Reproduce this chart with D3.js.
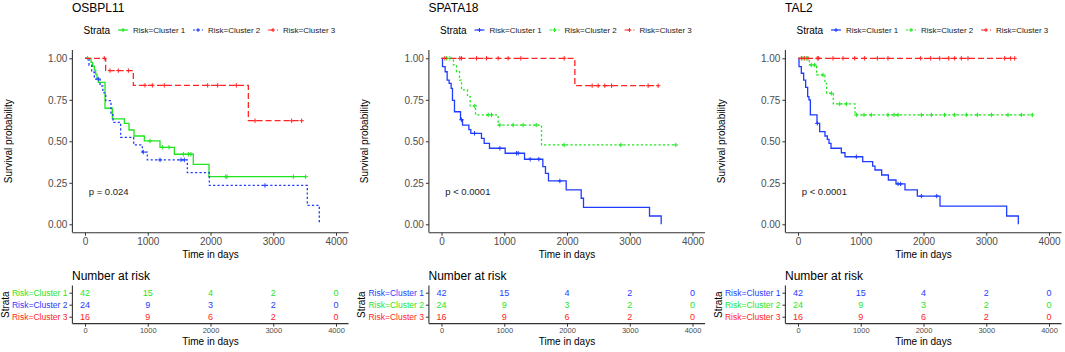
<!DOCTYPE html>
<html>
<head>
<meta charset="utf-8">
<script src="https://cdn.jsdelivr.net/npm/d3@7"></script>
<style>
  body { margin: 0; background: #fff; }
  svg { font-family: "Liberation Sans", Arial, sans-serif; display: block; }
  .tick text { fill: #4d4d4d; }
</style>
</head>
<body>
<svg id="chart" width="1065" height="352"></svg>
<script>
// ---- data ----
const genes = ["OSBPL11", "SPATA18", "TAL2"];
const pLabels = ["p = 0.024", "p < 0.0001", "p < 0.0001"];
const strata = ["Risk=Cluster 1", "Risk=Cluster 2", "Risk=Cluster 3"];
const timeTicks = [0, 1000, 2000, 3000, 4000];
const survTicks = [0, 0.25, 0.5, 0.75, 1];

// number at risk (same in all three panels)
const riskCluster1 = [42, 15, 4, 2, 0];
const riskCluster2 = [24, 9, 3, 2, 0];
const riskCluster3 = [16, 9, 6, 2, 0];

// KM steps: [time, survival from that time on]; last pair = end of follow-up
const osbpl11C1 = [[0,1],[96,0.976],[122,0.952],[149,0.929],[170,0.905],[191,0.88],[212,0.855],[319,0.699],[436,0.635],[627,0.608],[701,0.568],[781,0.532],[946,0.502],[1195,0.464],[1424,0.422],[1726,0.361],[1976,0.287],[3517,0.287]];
const osbpl11C1Cens = [42, 1036, 1232, 1339, 1567, 1647, 1689, 2242, 2263, 3320, 3517];
const osbpl11C2 = [[0,1],[64,0.958],[106,0.917],[149,0.875],[240,0.833],[285,0.792],[330,0.745],[414,0.66],[446,0.614],[568,0.524],[776,0.478],[914,0.435],[993,0.388],[1631,0.311],[1981,0.234],[3543,0.114],[3734,0]];
const osbpl11C2Cens = [212, 930, 1195, 1530, 1583, 2868];
const osbpl11C3 = [[0,1],[329,0.926],[770,0.837],[2603,0.624],[3453,0.624]];
const osbpl11C3Cens = [308, 398, 531, 691, 956, 1073, 1264, 1955, 2114, 2412, 2709, 3293, 3453];

const spata18C1 = [[0,1],[16,0.95],[58,0.919],[90,0.869],[122,0.849],[154,0.819],[175,0.747],[207,0.678],[303,0.63],[335,0.598],[436,0.57],[467,0.548],[637,0.518],[680,0.488],[765,0.458],[1015,0.428],[1323,0.392],[1615,0.347],[1657,0.307],[1705,0.261],[1987,0.207],[2226,0.157],[2263,0.102],[3315,0.05],[3501,0]];
const spata18C1Cens = [319, 526, 930, 1195, 1222, 1413, 1551, 1886];
const spata18C2 = [[0,1],[191,0.96],[239,0.919],[287,0.869],[319,0.81],[414,0.769],[457,0.713],[542,0.659],[903,0.598],[1594,0.478],[3734,0.478]];
const spata18C2Cens = [80, 133, 531, 744, 797, 930, 1142, 1301, 1509, 1955, 2858, 3734];
const spata18C3 = [[0,1],[2125,0.835],[3453,0.835]];
const spata18C3Cens = [53, 292, 319, 558, 717, 903, 1062, 1264, 1955, 2401, 2497, 2603, 2709, 3293, 3453];

const tal2C1 = [[0,1],[16,0.95],[53,0.91],[90,0.869],[122,0.825],[154,0.769],[175,0.749],[197,0.659],[303,0.608],[345,0.558],[430,0.532],[467,0.512],[494,0.488],[526,0.458],[691,0.431],[749,0.407],[1031,0.377],[1190,0.351],[1227,0.327],[1333,0.297],[1440,0.267],[1562,0.243],[1705,0.207],[1902,0.17],[2263,0.11],[3325,0.05],[3511,0]];
const tal2C1Cens = [308, 930, 1594, 1636, 1966, 2210];
const tal2C2 = [[0,1],[181,0.96],[297,0.9],[430,0.849],[457,0.789],[563,0.725],[908,0.659],[3734,0.659]];
const tal2C2Cens = [80, 133, 212, 266, 398, 531, 664, 770, 930, 1052, 1169, 1434, 1530, 1594, 1966, 2125, 2337, 2497, 2683, 2858, 3081, 3347, 3559, 3734];
const tal2C3 = [[0,1],[3453,1]];
const tal2C3Cens = [53, 106, 159, 308, 329, 558, 717, 903, 1062, 1264, 1434, 1955, 2114, 2258, 2401, 2497, 2603, 2709, 3293, 3389, 3453];

// ---- styles ----
const GREEN = "#1fe61f", BLUE = "#1f3cff", RED = "#ff2424";
const panelColors = [[GREEN, BLUE, RED], [BLUE, GREEN, RED], [BLUE, GREEN, RED]];
const dashes = [null, "2.2,2.2", "6,3"];

const panels = [
  {curves: [osbpl11C1, osbpl11C2, osbpl11C3], cens: [osbpl11C1Cens, osbpl11C2Cens, osbpl11C3Cens]},
  {curves: [spata18C1, spata18C2, spata18C3], cens: [spata18C1Cens, spata18C2Cens, spata18C3Cens]},
  {curves: [tal2C1, tal2C2, tal2C3], cens: [tal2C1Cens, tal2C2Cens, tal2C3Cens]}
];
const riskTable = [riskCluster1, riskCluster2, riskCluster3];
const panelLeft = [0, 356.5, 713];

const svg = d3.select("#chart");
const AXIS = "#333";

function survAt(curve, t) {
  const i = d3.bisector(d => d[0]).right(curve, t) - 1;
  return curve[Math.max(0, i)][1];
}

function plus(g, cx, cy, col, r) {
  g.append("path")
    .attr("d", `M${cx - r},${cy}H${cx + r}M${cx},${cy - r}V${cy + r}`)
    .attr("stroke", col).attr("stroke-width", 1).attr("fill", "none");
}

panels.forEach((p, pi) => {
  const left = panelLeft[pi];
  const cols = panelColors[pi];
  const g = svg.append("g");

  const x = d3.scaleLinear().domain([0, 4000]).range([left + 85, left + 336]);
  const y = d3.scaleLinear().domain([0, 1]).range([224.3, 58.3]);

  // title
  g.append("text").attr("x", left + 72).attr("y", 11.5)
    .attr("font-size", 12).attr("fill", "#000").text(genes[pi]);

  // legend
  g.append("text").attr("x", left + 83.5).attr("y", 33.5)
    .attr("font-size", 10).attr("fill", "#000").text("Strata");
  strata.forEach((s, k) => {
    const kx = left + 118 + k * 75;
    const ln = g.append("line").attr("x1", kx).attr("x2", kx + 10)
      .attr("y1", 30).attr("y2", 30)
      .attr("stroke", cols[k]).attr("stroke-width", 1.2);
    if (dashes[k]) ln.attr("stroke-dasharray", dashes[k]);
    plus(g, kx + 5, 30, cols[k], 2);
    g.append("text").attr("x", kx + 15).attr("y", 32.8)
      .attr("font-size", 8).attr("fill", "#1a1a1a").text(s);
  });

  // axes
  const yAxis = g.append("g").attr("transform", `translate(${left + 72.4},0)`)
    .call(d3.axisLeft(y).tickValues(survTicks).tickFormat(d3.format(".2f")).tickSize(3).tickPadding(2))
    .call(a => a.select(".domain").remove());
  yAxis.selectAll("line").attr("stroke", AXIS);
  yAxis.selectAll("text").attr("font-size", 10).attr("font-family", null);

  const xAxis = g.append("g").attr("transform", `translate(0,${232.7})`)
    .call(d3.axisBottom(x).tickValues(timeTicks).tickFormat(d3.format("d")).tickSize(3).tickPadding(2))
    .call(a => a.select(".domain").remove());
  xAxis.selectAll("line").attr("stroke", AXIS);
  xAxis.selectAll("text").attr("font-size", 10).attr("font-family", null);

  g.append("line").attr("x1", left + 72.4).attr("x2", left + 72.4)
    .attr("y1", y(1.05)).attr("y2", y(-0.05)).attr("stroke", AXIS).attr("stroke-width", 1.1);
  g.append("line").attr("x1", x(-200)).attr("x2", x(4200))
    .attr("y1", 232.7).attr("y2", 232.7).attr("stroke", AXIS).attr("stroke-width", 1.1);

  g.append("text").attr("x", (x(-200) + x(4200)) / 2).attr("y", 257.5)
    .attr("text-anchor", "middle").attr("font-size", 10).attr("fill", "#000").text("Time in days");
  g.append("text").attr("transform", `translate(${left + 11.5},${(y(0) + y(1)) / 2}) rotate(-90)`)
    .attr("text-anchor", "middle").attr("font-size", 10).attr("fill", "#000").text("Survival probability");

  // curves
  const line = d3.line().x(d => x(d[0])).y(d => y(d[1])).curve(d3.curveStepAfter);
  p.curves.forEach((c, k) => {
    const path = g.append("path").attr("d", line(c))
      .attr("fill", "none").attr("stroke", cols[k]).attr("stroke-width", 1.3);
    if (dashes[k]) path.attr("stroke-dasharray", dashes[k]);
    p.cens[k].forEach(t => plus(g, x(t), y(survAt(c, t)), cols[k], 2.2));
  });

  // p-value
  g.append("text").attr("x", x(60)).attr("y", y(0.2) + 3.5)
    .attr("font-size", 9.5).attr("fill", "#222").text(pLabels[pi]);

  // ---- risk table ----
  g.append("text").attr("x", left + 72).attr("y", 279.5)
    .attr("font-size", 12).attr("fill", "#000").text("Number at risk");

  const r = d3.scalePoint().domain(strata).range([292.7, 316.7]);
  const rAxis = g.append("g").attr("transform", `translate(${left + 72.4},0)`)
    .call(d3.axisLeft(r).tickSize(3).tickPadding(2))
    .call(a => a.select(".domain").remove());
  rAxis.selectAll("line").attr("stroke", AXIS);
  rAxis.selectAll("text").attr("font-size", 8.5).attr("font-family", null)
    .style("fill", (d, k) => cols[k]);

  const rx = g.append("g").attr("transform", `translate(0,${323.6})`)
    .call(d3.axisBottom(x).tickValues(timeTicks).tickFormat(d3.format("d")).tickSize(3).tickPadding(1.5))
    .call(a => a.select(".domain").remove());
  rx.selectAll("line").attr("stroke", AXIS);
  rx.selectAll("text").attr("font-size", 7.5).attr("font-family", null);

  g.append("line").attr("x1", left + 72.4).attr("x2", left + 72.4)
    .attr("y1", 285.5).attr("y2", 323.6).attr("stroke", AXIS).attr("stroke-width", 1.1);
  g.append("line").attr("x1", x(-200)).attr("x2", x(4200))
    .attr("y1", 323.6).attr("y2", 323.6).attr("stroke", AXIS).attr("stroke-width", 1.1);

  riskTable.forEach((row, k) => {
    row.forEach((n, j) => {
      g.append("text").attr("x", x(timeTicks[j])).attr("y", r(strata[k]) + 3.3)
        .attr("text-anchor", "middle").attr("font-size", 9)
        .attr("fill", cols[k]).text(n);
    });
  });

  g.append("text").attr("x", (x(-200) + x(4200)) / 2).attr("y", 344.5)
    .attr("text-anchor", "middle").attr("font-size", 10).attr("fill", "#000").text("Time in days");
  g.append("text").attr("transform", `translate(${left + 8.5},${304.7}) rotate(-90)`)
    .attr("text-anchor", "middle").attr("font-size", 10).attr("fill", "#000").text("Strata");
});
</script>
</body>
</html>
